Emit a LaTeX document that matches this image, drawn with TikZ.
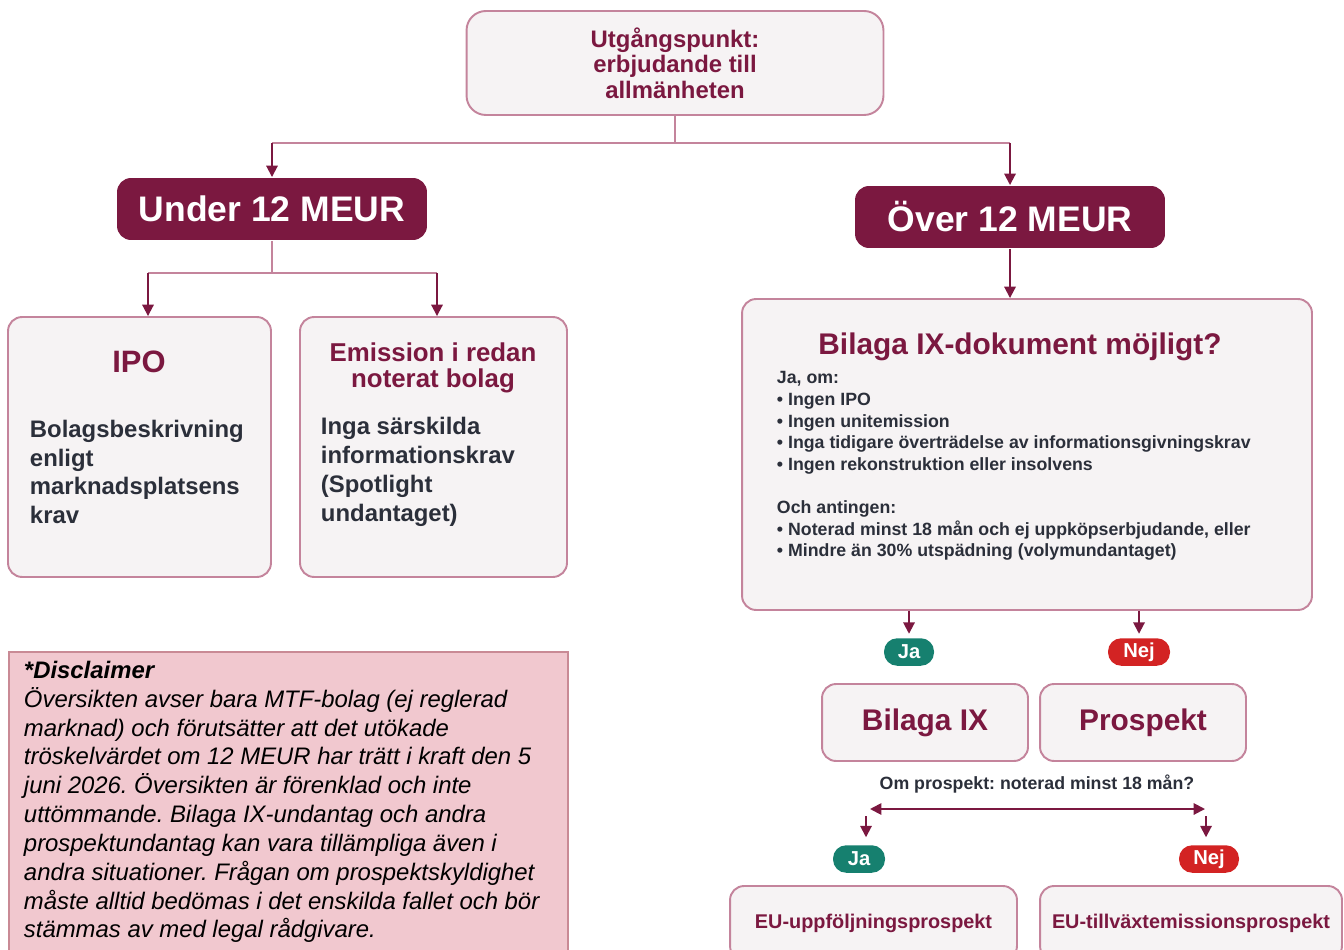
\documentclass[tikz,border=0pt]{standalone}
\usepackage{fontspec}
\setmainfont{Liberation Sans}
\usetikzlibrary{arrows.meta,positioning}
\definecolor{wine}{HTML}{7B1840}
\definecolor{rosa}{HTML}{C4849C}
\definecolor{boxfill}{HTML}{F6F3F4}
\definecolor{ink}{HTML}{2B2F3A}
\definecolor{jagreen}{HTML}{16806F}
\definecolor{nejred}{HTML}{D32323}
\definecolor{discfill}{HTML}{F1C8CF}
\definecolor{discline}{HTML}{C98A95}
\newcommand{\setfs}[2]{\fontsize{#1}{#2}\selectfont}
\frenchspacing

\begin{document}
\begin{tikzpicture}[x=0.02cm,y=-0.02cm,line width=1.1pt,
  box/.style={draw=rosa,fill=boxfill,rounded corners=8pt,inner sep=0pt},
  headbox/.style={fill=wine,rounded corners=8pt,text=white,font=\bfseries\setfs{20.2}{24},minimum width=6.2cm,minimum height=1.24cm,inner sep=0pt},
  pill/.style={rounded corners=7.5pt,text=white,font=\bfseries\setfs{11.5}{13},minimum height=0.55cm,inner sep=0pt},
  link/.style={draw=rosa},
  arr/.style={draw=wine,-{Triangle[length=6.5pt,width=6.5pt]}},
  dblarr/.style={draw=wine,{Triangle[length=6.5pt,width=6.5pt]}-{Triangle[length=6.5pt,width=6.5pt]}},
  boxtitle/.style={text=wine,font=\bfseries\setfs{14.7}{14.8},align=center},
  boxtext/.style={text=ink,font=\bfseries\setfs{13.6}{16.4},align=left,anchor=west,inner sep=0pt},
  smalltext/.style={text=ink,font=\bfseries\setfs{10.1}{12.3},align=left,inner sep=0pt}]
\useasboundingbox (0,0) rectangle (1344,949);
\clip (0,0) rectangle (1344,949);

\node[box,minimum width=8.34cm,minimum height=2.08cm,rounded corners=11pt,align=center,text=wine,font=\bfseries\setfs{13.6}{14.5}] (start) at (675,63) {Utgångspunkt:\\erbjudande till\\allmänheten};
\node[headbox] (under) at (272,209) {Under 12 MEUR};
\node[headbox] (over) at (1010,217) {Över 12 MEUR};
\coordinate (split) at (675,143);
\draw[link] (start.south) -- (split);
\draw[link] (under.north |- split) -- (over.north |- split);
\draw[arr] (under.north |- split) -- (under.north);
\draw[arr] (over.north |- split) -- (over.north);

\node[box,minimum width=5.26cm,minimum height=5.2cm] (ipo) at (139.5,447) {};
\node[box,minimum width=5.34cm,minimum height=5.2cm] (emis) at (433.5,447) {};
\coordinate (split2) at (272,273);
\coordinate (l2) at (148,273);
\coordinate (r2) at (437,273);
\draw[link] (under.south) -- (split2);
\draw[link] (l2) -- (r2);
\draw[arr] (l2) -- (l2 |- ipo.north);
\draw[arr] (r2) -- (r2 |- emis.north);
\node[boxtitle,font=\bfseries\setfs{17.6}{20}] (ipotitle) at (139,362) {IPO};
\node[boxtext] (ipotext) at (29,472) {Bolagsbeskrivning\\enligt\\marknadsplatsens\\krav};
\node[boxtitle] (emistitle) at (433,368) {Emission i redan\\noterat bolag};
\node[boxtext] (emistext) at (320,472) {Inga särskilda\\informationskrav\\(Spotlight\\undantaget)};

\node[box,minimum width=11.4cm,minimum height=6.22cm] (check) at (1027,454.5) {};
\draw[arr] (over.south) -- (over.south |- check.north);
\node[boxtitle,font=\bfseries\setfs{17}{20}] (checktitle) at (1020,347) {Bilaga IX-dokument möjligt?};
\node[smalltext,anchor=west] (checktext) at (776,466) {Ja, om:\\• Ingen IPO\\• Ingen unitemission\\• Inga tidigare överträdelse av informationsgivningskrav\\• Ingen rekonstruktion eller insolvens\\[12.3pt]Och antingen:\\• Noterad minst 18 mån och ej uppköpserbjudande, eller\\• Mindre än 30\% utspädning (volymundantaget)};

\node[pill,fill=jagreen,minimum width=1.0cm] (ja1) at (909,652) {Ja};
\node[pill,fill=nejred,minimum width=1.24cm] (nej1) at (1139,652) {Nej};
\draw[arr,shorten >=2pt] (check.south -| ja1) -- (ja1.north);
\draw[arr,shorten >=2pt] (check.south -| nej1) -- (nej1.north);

\node[box,minimum width=4.12cm,minimum height=1.54cm,text=wine,font=\bfseries\setfs{17}{20}] (bix) at (925,722.5) {Bilaga IX};
\node[box,minimum width=4.12cm,minimum height=1.54cm,text=wine,font=\bfseries\setfs{17}{20}] (prosp) at (1143,722.5) {Prospekt};
\node[smalltext] (q2) at (1037,784) {Om prospekt: noterad minst 18 mån?};
\coordinate (dl) at (870,809);
\coordinate (dr) at (1205,809);
\draw[dblarr] (dl) -- (dr);

\coordinate (jl) at (866,816);
\coordinate (nr) at (1206,816);
\node[pill,fill=jagreen,minimum width=1.04cm] (ja2) at (859,859) {Ja};
\node[pill,fill=nejred,minimum width=1.2cm] (nej2) at (1209,859) {Nej};
\draw[arr,shorten >=4pt] (jl) -- (jl |- ja2.north);
\draw[arr,shorten >=4pt] (nr) -- (nr |- nej2.north);

\node[box,minimum width=5.74cm,minimum height=1.48cm,text=wine,font=\bfseries\setfs{11.3}{13}] (eu1) at (873.5,923) {EU-uppföljningsprospekt};
\node[box,minimum width=6.04cm,minimum height=1.48cm,text=wine,font=\bfseries\setfs{11.3}{13}] (eu2) at (1191,923) {EU-tillväxtemissionsprospekt};

\node[draw=discline,fill=discfill,line width=1pt,minimum width=11.18cm,minimum height=6.3cm,anchor=north west,inner sep=0pt] (disc) at (8,651) {};
\node[anchor=west,align=left,inner sep=0pt,font=\itshape\setfs{13.6}{16.4}] (disctext) at (23,802) {\textbf{*Disclaimer}\\Översikten avser bara MTF-bolag (ej reglerad\\marknad) och förutsätter att det utökade\\tröskelvärdet om 12 MEUR har trätt i kraft den 5\\juni 2026. Översikten är förenklad och inte\\uttömmande. Bilaga IX-undantag och andra\\prospektundantag kan vara tillämpliga även i\\andra situationer. Frågan om prospektskyldighet\\måste alltid bedömas i det enskilda fallet och bör\\stämmas av med legal rådgivare.};
\end{tikzpicture}
\end{document}
